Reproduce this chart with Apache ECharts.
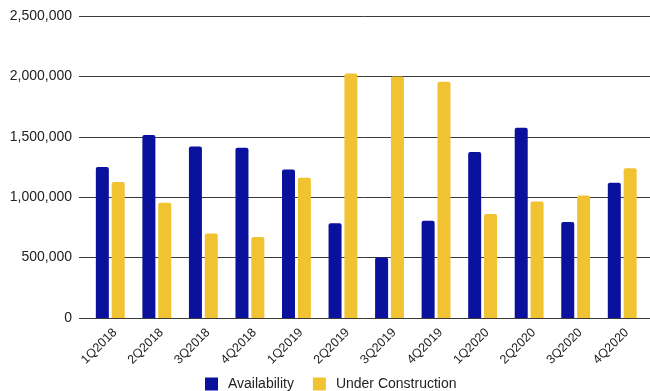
<!DOCTYPE html>
<html>
<head>
<meta charset="utf-8">
<script src="https://cdn.jsdelivr.net/npm/echarts@6/dist/echarts.min.js"></script>
<style>
  html, body { margin: 0; padding: 0; background: #fff; }
  #chart { width: 650px; height: 391px; }
</style>
</head>
<body>
<div id="chart"></div>
<script>
const quarters = ['1Q2018', '2Q2018', '3Q2018', '4Q2018', '1Q2019', '2Q2019', '3Q2019', '4Q2019', '1Q2020', '2Q2020', '3Q2020', '4Q2020'];
const availability = [1250000, 1515000, 1420000, 1410000, 1230000, 785000, 500000, 805000, 1375000, 1575000, 795000, 1120000];
const underConstruction = [1125000, 955000, 700000, 670000, 1160000, 2025000, 2000000, 1955000, 860000, 965000, 1015000, 1240000];
const yMin = 0, yMax = 2500000, yStep = 500000;

const FONT = 'Liberation Sans, Arial, sans-serif';
const chart = echarts.init(document.getElementById('chart'));

chart.setOption({
  animation: false,
  textStyle: { fontFamily: FONT },
  legend: {
    top: 372,
    left: 200,
    itemWidth: 13,
    itemHeight: 13,
    itemGap: 19,
    icon: 'rect',
    textStyle: { fontSize: 14, color: '#222', fontFamily: FONT, padding: [0, 0, 0, 5] },
    data: ['Availability', 'Under Construction']
  },
  grid: [
    // wide grid: axis labels and gridlines
    { left: 79, right: 0, top: 16, bottom: 73 },
    // inner grid: bars and category labels
    { left: 87, right: 4.5, top: 16, bottom: 73 }
  ],
  xAxis: [
    { gridIndex: 0, type: 'value', show: false, min: 0, max: 1 },
    {
      gridIndex: 1,
      type: 'category',
      data: quarters,
      axisLine: { show: false },
      axisTick: { show: false },
      axisLabel: {
        rotate: 45, fontSize: 12.5, color: '#222', margin: 8, fontFamily: FONT,
        interval: 0, verticalAlign: 'top'
      }
    }
  ],
  yAxis: [
    {
      gridIndex: 0,
      type: 'value',
      min: yMin, max: yMax, interval: yStep,
      axisLine: { show: false },
      axisTick: { show: false },
      axisLabel: {
        fontSize: 14, color: '#222', margin: 7, fontFamily: FONT,
        formatter: v => v.toLocaleString('en-US')
      },
      splitLine: { lineStyle: { color: '#3a3a3a', width: 1 } }
    },
    {
      gridIndex: 1,
      type: 'value',
      min: yMin, max: yMax, interval: yStep,
      show: false,
      splitLine: { show: false }
    }
  ],
  series: [
    {
      name: 'Availability',
      type: 'bar',
      xAxisIndex: 1, yAxisIndex: 1,
      data: availability,
      barWidth: 13,
      barGap: '22%',
      itemStyle: { color: '#0a119d', borderRadius: [2, 2, 0, 0] }
    },
    {
      name: 'Under Construction',
      type: 'bar',
      xAxisIndex: 1, yAxisIndex: 1,
      data: underConstruction,
      barWidth: 13,
      itemStyle: { color: '#f1c232', borderRadius: [2, 2, 0, 0] }
    }
  ]
});
</script>
</body>
</html>
